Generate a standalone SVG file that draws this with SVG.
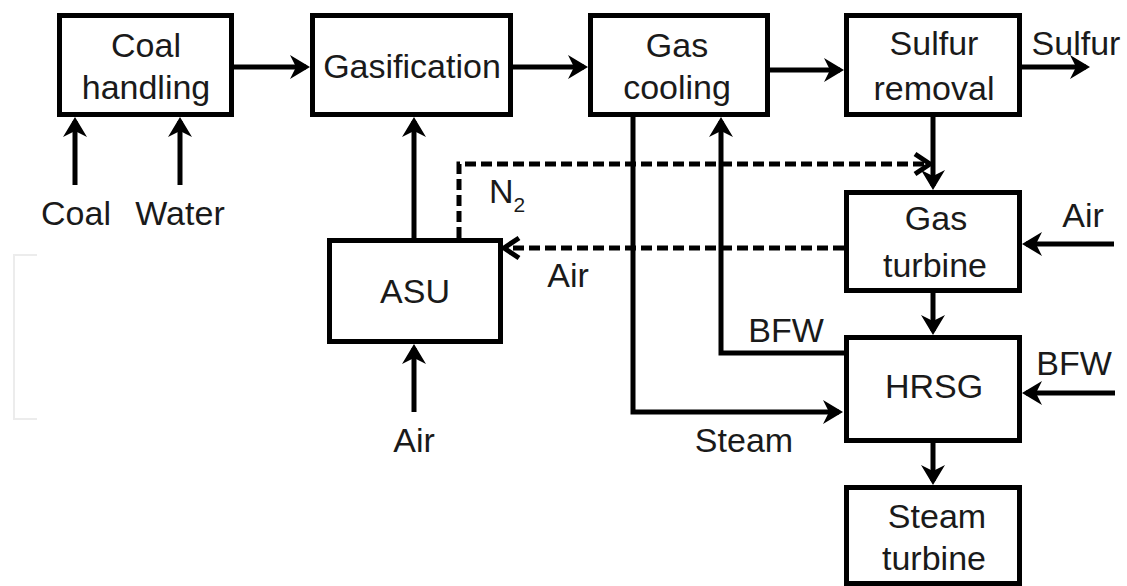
<svg xmlns="http://www.w3.org/2000/svg" width="1127" height="586" viewBox="0 0 1127 586">
<style>
.box{fill:#fff;stroke:#000;stroke-width:5}
.t{font-family:"Liberation Sans",Arial,sans-serif;font-size:34px;fill:#1a1a1a;text-anchor:middle}
.ts{font-family:"Liberation Sans",Arial,sans-serif;font-size:21px;fill:#1a1a1a}
.ln{fill:none;stroke:#000;stroke-width:5;marker-end:url(#ah)}
.dl{fill:none;stroke:#000;stroke-width:5;stroke-dasharray:11 5;marker-end:url(#oh)}
</style>
<defs>
<marker id="ah" markerUnits="userSpaceOnUse" viewBox="-20 -13 26 26" refX="0" refY="0" markerWidth="26" markerHeight="26" orient="auto">
<path d="M4,0 L-16,-12 L-10,0 L-16,12 Z" fill="#000"/>
</marker>
<marker id="oh" markerUnits="userSpaceOnUse" viewBox="-20 -14 26 28" refX="0" refY="0" markerWidth="26" markerHeight="28" orient="auto">
<path d="M-13,-10 L2,0 L-13,10" fill="none" stroke="#000" stroke-width="5"/>
</marker>
</defs>
<path d="M37,255 L14,255 L14,419 L37,419" fill="none" stroke="#ececec" stroke-width="2"/>
<g id="connectors">
<path class="ln" d="M75,185 L75,121"/>
<path class="ln" d="M180,185 L180,121"/>
<path class="ln" d="M234,67 L306,67"/>
<path class="ln" d="M513,67 L584,67"/>
<path class="ln" d="M770,70 L840,70"/>
<path class="ln" d="M1022,67 L1086,67"/>
<path class="ln" d="M414,238 L414,121"/>
<path class="ln" d="M414,412 L414,348"/>
<path class="dl" d="M459,238 L459,164 L928,164"/>
<path class="ln" d="M933,117 L933,186"/>
<path class="ln" d="M1114,244 L1026,244"/>
<path class="dl" d="M844,248 L506,248"/>
<path class="ln" d="M933,293 L933,331"/>
<path class="ln" d="M844,353 L721,353 L721,121"/>
<path class="ln" d="M633,117 L633,412 L839,412"/>
<path class="ln" d="M1115,393 L1026,393"/>
<path class="ln" d="M933,443 L933,481"/>
</g>
<g id="coal-handling"><rect class="box" x="59.5" y="15.5" width="172" height="99"/><text class="t" x="146" y="57">Coal</text><text class="t" x="146" y="99">handling</text></g>
<g id="gasification"><rect class="box" x="312.5" y="15.5" width="198" height="99"/><text class="t" x="412" y="78">Gasification</text></g>
<g id="gas-cooling"><rect class="box" x="590.5" y="15.5" width="177" height="99"/><text class="t" x="677" y="57">Gas</text><text class="t" x="677" y="99">cooling</text></g>
<g id="sulfur-removal"><rect class="box" x="846.5" y="15.5" width="173" height="99"/><text class="t" x="934" y="55">Sulfur</text><text class="t" x="934" y="100">removal</text></g>
<g id="gas-turbine"><rect class="box" x="846.5" y="192.5" width="173" height="98"/><text class="t" x="936" y="230">Gas</text><text class="t" x="935" y="277">turbine</text></g>
<g id="hrsg"><rect class="box" x="846.5" y="337.5" width="173" height="103"/><text class="t" x="934" y="398">HRSG</text></g>
<g id="steam-turbine"><rect class="box" x="846.5" y="487.5" width="173" height="96"/><text class="t" x="937" y="528">Steam</text><text class="t" x="934" y="570">turbine</text></g>
<g id="asu"><rect class="box" x="329.5" y="240.5" width="171" height="101"/><text class="t" x="415" y="303">ASU</text></g>
<g id="labels">
<text class="t" x="76" y="225">Coal</text>
<text class="t" x="180" y="225">Water</text>
<text class="t" x="414" y="452">Air</text>
<text class="t" x="568" y="287">Air</text>
<text class="t" x="1083" y="227">Air</text>
<text class="t" x="1076" y="55">Sulfur</text>
<text class="t" x="786" y="342">BFW</text>
<text class="t" x="1074" y="375">BFW</text>
<text class="t" x="744" y="452">Steam</text>
<text class="t" x="507" y="203">N<tspan class="ts" dy="9" style="text-anchor:start">2</tspan></text>
</g>
</svg>
